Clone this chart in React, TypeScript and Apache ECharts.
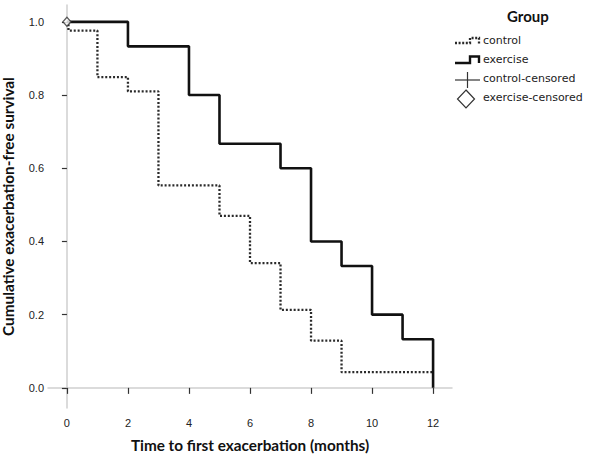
import React, { useEffect, useRef } from "react";
import * as echarts from "echarts";

const xTicks = [0, 2, 4, 6, 8, 10, 12];
const yTicks = [0, 0.2, 0.4, 0.6, 0.8, 1.0];

const exerciseTime = [0, 2, 4, 5, 7, 8, 9, 10, 11, 12];
const exerciseSurv = [1.0, 0.933, 0.8, 0.667, 0.6, 0.4, 0.333, 0.2, 0.133, 0.0];

const controlTime = [0, 0.05, 1, 2, 3, 5, 6, 7, 8, 9, 12];
const controlSurv = [1.0, 0.976, 0.849, 0.81, 0.553, 0.47, 0.341, 0.213, 0.129, 0.043, 0.043];

const exerciseCensored = [[0, 1.0]];

const legendNames = ["control", "exercise", "control-censored", "exercise-censored"];

export default function App() {
  const ref = useRef<HTMLDivElement>(null);
  useEffect(() => {
    if (!ref.current) return;
    const chart = echarts.init(ref.current, null, { renderer: "svg" });
    const lx = 455;
    const tx = 483;
    const legendY = [42, 61, 80, 99];
    chart.setOption({
      animation: false,
      backgroundColor: "#fff",
      grid: { left: 48, right: 148, top: 5, bottom: 46, outerBoundsMode: "none", containLabel: false },
      xAxis: {
        type: "value",
        min: -0.62,
        max: 12.62,
        name: "Time to first exacerbation (months)",
        nameLocation: "middle",
        nameGap: 29,
        nameTextStyle: { fontFamily: "Lato", fontWeight: "bold", fontSize: 15.3, color: "#111" },
        axisLine: { show: true, lineStyle: { color: "#cfcfcf", width: 1.5 } },
        axisTick: { show: true, length: 6, customValues: xTicks, lineStyle: { color: "#333", width: 1.2 } },
        axisLabel: {
          customValues: xTicks,
          margin: 9,
          fontFamily: "Liberation Sans",
          fontSize: 11,
          color: "#222",
        },
        splitLine: { show: false },
      },
      yAxis: {
        type: "value",
        min: -0.055,
        max: 1.046,
        name: "Cumulative exacerbation-free survival",
        nameLocation: "middle",
        nameGap: 33,
        nameTextStyle: { fontFamily: "Lato", fontWeight: "bold", fontSize: 15.3, color: "#111" },
        axisLine: { show: true, lineStyle: { color: "#cfcfcf", width: 1.5 } },
        axisTick: { show: true, length: 5, customValues: yTicks, lineStyle: { color: "#333", width: 1.2 } },
        axisLabel: {
          customValues: yTicks,
          margin: 4,
          fontFamily: "Liberation Sans",
          fontSize: 11,
          color: "#222",
          formatter: (v: number) => v.toFixed(1),
        },
        splitLine: { show: false },
      },
      series: [
        {
          name: "control",
          type: "line",
          step: "end",
          showSymbol: false,
          symbol: "none",
          data: controlTime.map((t, i) => [t, controlSurv[i]]),
          lineStyle: { color: "#2a2a2a", width: 2.3, type: [2, 1.9] },
          z: 2,
        },
        {
          name: "exercise",
          type: "line",
          step: "end",
          showSymbol: false,
          symbol: "none",
          data: exerciseTime.map((t, i) => [t, exerciseSurv[i]]),
          lineStyle: { color: "#111", width: 2.6 },
          z: 3,
        },
        {
          name: "exercise-censored",
          type: "scatter",
          symbol: "diamond",
          symbolSize: [8, 9],
          data: exerciseCensored,
          itemStyle: { color: "#fff", borderColor: "#333", borderWidth: 1.3 },
          z: 5,
        },
      ],
      graphic: [
        {
          type: "text",
          left: 507,
          top: 8,
          style: { text: "Group", fontFamily: "Lato", fontWeight: "bold", fontSize: 15, fill: "#111" },
        },
        {
          type: "polyline",
          shape: { points: [[lx, 43], [lx + 15, 43], [lx + 15, 38], [lx + 24, 38], [lx + 24, 44]] },
          style: { stroke: "#2a2a2a", lineWidth: 2.3, lineDash: [2, 1.6], fill: "none" },
        },
        {
          type: "polyline",
          shape: { points: [[lx, 63], [lx + 15, 63], [lx + 15, 56.5], [lx + 24, 56.5], [lx + 24, 63]] },
          style: { stroke: "#111", lineWidth: 2.4, fill: "none" },
        },
        {
          type: "line",
          shape: { x1: lx, y1: 80, x2: lx + 25, y2: 80 },
          style: { stroke: "#333", lineWidth: 1.2 },
        },
        {
          type: "line",
          shape: { x1: lx + 12.5, y1: 72, x2: lx + 12.5, y2: 88 },
          style: { stroke: "#333", lineWidth: 1.2 },
        },
        {
          type: "polygon",
          shape: { points: [[lx + 11, 90], [lx + 19.5, 99], [lx + 11, 108], [lx + 2.5, 99]] },
          style: { stroke: "#333", lineWidth: 1.2, fill: "#fff" },
        },
        ...legendNames.map((n, i) => ({
          type: "text",
          left: tx,
          top: legendY[i] - 7,
          style: { text: n, fontFamily: "DejaVu Sans", fontSize: 11, fill: "#222" },
        })),
      ],
    });
    return () => chart.dispose();
  }, []);
  return (
    <div
      ref={ref}
      style={{ position: "absolute", left: 0, top: 0, width: 600, height: 454 }}
    />
  );
}
